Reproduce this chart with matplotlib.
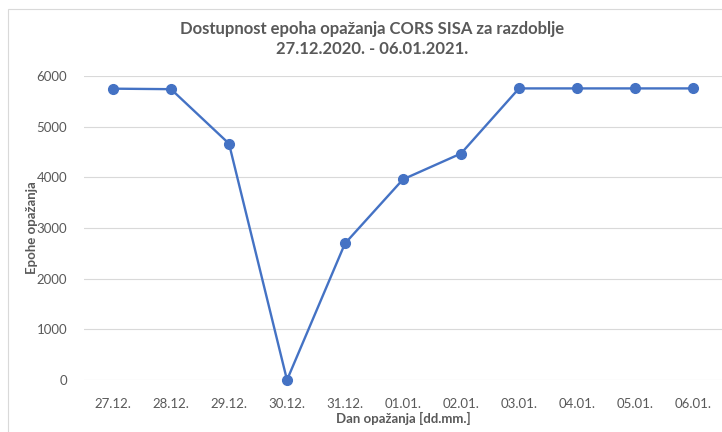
import matplotlib
import matplotlib.pyplot as plt
from matplotlib.patches import Rectangle

matplotlib.use('Agg')

# podaci ocitani s grafa
dani = ['27.12.', '28.12.', '29.12.', '30.12.', '31.12.', '01.01.',
        '02.01.', '03.01.', '04.01.', '05.01.', '06.01.']
epohe = [5750, 5740, 4665, 0, 2695, 3960, 4470, 5755, 5755, 5755, 5755]
y_ticks = [0, 1000, 2000, 3000, 4000, 5000, 6000]

naslov = "Dostupnost epoha opažanja CORS SISA za razdoblje\n27.12.2020. - 06.01.2021."

plt.rcParams['font.family'] = ['Lato', 'DejaVu Sans']
siva = '#595959'
plava = '#4472C4'

fig = plt.figure(figsize=(7.22, 4.32), dpi=100)
fig.patches.append(Rectangle((8 / 722, -0.1), 1.2, 1 - 9 / 432 + 0.1,
                             transform=fig.transFigure, fill=False,
                             edgecolor='#D9D9D9', linewidth=0.8))

ax = fig.add_axes([84 / 722, 1 - 380 / 432, 638 / 722, 304 / 432])
x = list(range(len(dani)))
ax.plot(x, epohe, color=plava, linewidth=1.7, marker='o', markersize=7,
        clip_on=False, zorder=3)

ax.set_xlim(-0.5, len(dani) - 0.5)
ax.set_ylim(0, 6000)
ax.set_yticks(y_ticks)
ax.set_xticks(x)
ax.set_xticklabels(dani)
ax.grid(axis='y', color='#D9D9D9', linewidth=0.8)
ax.set_axisbelow(True)
for s in ax.spines.values():
    s.set_visible(False)
ax.tick_params(axis='both', length=0, labelsize=9.5, labelcolor=siva)
ax.tick_params(axis='x', pad=13)
ax.tick_params(axis='y', pad=12)

ax.set_xlabel("Dan opažanja [dd.mm.]", fontsize=9.5, fontweight='bold',
              color=siva, va='center')
ax.set_ylabel("Epohe opažanja", fontsize=9.5, fontweight='bold',
              color=siva, va='center')
ax.xaxis.set_label_coords(0.5, (380 - 418) / 304)
ax.yaxis.set_label_coords((32 - 84) / 638, 0.5)

fig.text(372 / 722, 1 - 39 / 432, naslov, ha='center', va='center',
         fontsize=12, fontweight='bold', color=siva, linespacing=1.3)

plt.savefig('out.png', dpi=100)
plt.close()
